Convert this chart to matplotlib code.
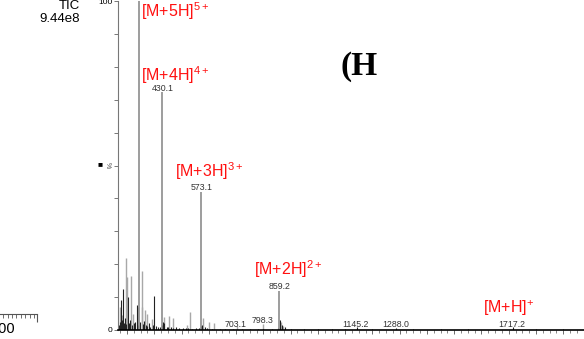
import matplotlib.pyplot as plt
import matplotlib.ticker as mticker

plt.rcParams['font.family'] = ['Liberation Sans', 'DejaVu Sans']
plt.rcParams['mathtext.default'] = 'regular'

# main charge-state peaks (m/z, relative %)
main_mz = [344.2, 430.1, 573.1, 859.2]
main_int = [100, 72.3, 42.0, 12.0]

# smaller grey peaks in the low m/z region
grey_mz = [274.3, 283.0, 295.2, 301.1, 314.7, 320.9, 339.0, 353.9, 356.1, 364.9,
           374.4, 390.6, 436.8, 454.0, 467.6, 518.9, 531.0, 580.0, 600.7, 619.0,
           703.1, 798.3, 866.0, 872.0]
grey_int = [7.0, 4.5, 22.0, 16.0, 16.4, 5.0, 7.0, 18.0, 7.0, 6.0,
            5.0, 3.3, 4.0, 4.3, 3.6, 1.5, 5.5, 3.7, 2.5, 2.0,
            1.2, 1.8, 2.4, 1.2]

# dark baseline / noise peaks
dark_mz = [272, 276, 278, 281, 285, 289, 293, 298, 304, 308, 312, 318, 324, 330,
           335.6, 342, 349, 358, 362, 368, 372, 380, 386, 395, 400.1, 408, 415,
           422, 428, 433, 437, 445, 452, 460, 470, 480, 492, 505, 515, 525, 540,
           552, 565, 571, 576, 585, 592, 610, 640, 660, 690, 720, 750, 780, 800,
           830, 855, 862, 868, 880, 900, 950, 1000, 1050, 1100, 1145.2, 1200,
           1288.0, 1350, 1450, 1550, 1717.2, 1800, 1900]
dark_int = [1.5, 2.5, 9.0, 3.0, 12.5, 2.0, 3.5, 1.8, 10.0, 2.2, 3.0, 1.5, 2.0, 2.5,
            7.5, 1.6, 2.4, 1.8, 2.8, 1.5, 1.2, 2.0, 1.0, 1.6, 10.3, 1.2, 1.0,
            0.9, 1.4, 2.5, 2.0, 1.0, 0.8, 0.9, 0.7, 0.8, 0.6, 0.5, 0.6, 0.5, 0.4,
            0.5, 0.6, 1.2, 1.5, 0.8, 0.5, 0.4, 0.3, 0.3, 0.3, 0.3, 0.3, 0.3, 0.4,
            0.3, 0.6, 3.0, 1.5, 0.8, 0.4, 0.3, 0.3, 0.3, 0.3, 0.8, 0.3,
            0.6, 0.2, 0.2, 0.2, 0.8, 0.2, 0.2]

# numeric peak labels: (text, x m/z, y %)
num_labels = [('430.1', 430.1, 73.4), ('573.1', 573.1, 43.3), ('859.2', 859.2, 13.3),
              ('703.1', 700.0, 1.6), ('798.3', 798.3, 3.0), ('1145.2', 1138.0, 1.6),
              ('1288.0', 1285.0, 1.6), ('1717.2', 1712.0, 1.6)]

# charge state annotations: (text, x m/z, y %)
ion_labels = [('[M+5H]$^{5+}$', 351.3, 96.8), ('[M+4H]$^{4+}$', 351.3, 77.6),
              ('[M+3H]$^{3+}$', 476.0, 48.3), ('[M+2H]$^{2+}$', 765.7, 18.4),
              ('[M+H]$^{+}$', 1605.4, 6.6)]

fig = plt.figure(figsize=(5.84, 3.39), dpi=100)
ax = fig.add_axes([118 / 584, 9 / 339, 1 - 118 / 584, 329 / 339])

ax.vlines(grey_mz, 0, grey_int, colors='#a8a8a8', lw=1.0)
ax.vlines(dark_mz, 0, dark_int, colors='#222222', lw=0.8)
ax.vlines(main_mz, 0, main_int, colors='#8c8c8c', lw=1.2)

ax.set_xlim(267, 1976)
ax.set_ylim(0, 100)

for s in ['top', 'right']:
    ax.spines[s].set_visible(False)
ax.spines['left'].set_color('#777777')
ax.spines['left'].set_linewidth(0.8)
ax.spines['bottom'].set_color('black')
ax.spines['bottom'].set_linewidth(1.2)

ax.yaxis.set_major_locator(mticker.FixedLocator([0, 100]))
ax.yaxis.set_minor_locator(mticker.MultipleLocator(10))
ax.tick_params(axis='y', which='both', length=3, width=0.7, color='#777777',
               labelsize=6, pad=1)
ax.xaxis.set_major_locator(mticker.MultipleLocator(100))
ax.xaxis.set_minor_locator(mticker.MultipleLocator(25))
ax.tick_params(axis='x', which='major', length=3, width=0.6, color='#555555',
               labelbottom=False)
ax.tick_params(axis='x', which='minor', length=2, width=0.5, color='#555555')

for txt, x, y in num_labels:
    ax.text(x, y, txt, ha='center', va='center', fontsize=6.3, color='#333333')

for txt, x, y in ion_labels:
    ax.text(x, y, txt, ha='left', va='center', fontsize=11.5, color='#ff1010')

# y-axis '%' marker
fig.text(97 / 584, 1 - 165 / 339, '\u25a0', fontsize=6, ha='left', va='center')
fig.text(104 / 584, 1 - 165 / 339, '%', fontsize=5, rotation=-90,
         ha='left', va='center', color='#444444')

# TIC info from neighbouring panel
fig.text(80 / 584, 1 - 6 / 339, 'TIC', fontsize=9.5, ha='right', va='center')
fig.text(80 / 584, 1 - 19 / 339, '9.44e8', fontsize=9.5, ha='right', va='center')

# panel letter (cropped)
fig.text(340 / 584, 1 - 66 / 339, '(H', fontsize=24, fontweight='bold',
         family='Liberation Serif', ha='left', va='center')

# edge of neighbouring panel's x axis
ax0 = fig.add_axes([-0.3, 1 - 314 / 339, 0.3 + 37 / 584, 0.001])
ax0.set_xlim(0, 100)
for s in ['left', 'right', 'bottom']:
    ax0.spines[s].set_visible(False)
ax0.spines['top'].set_color('#555555')
ax0.set_yticks([])
ax0.xaxis.set_minor_locator(mticker.MultipleLocator(2.1))
ax0.xaxis.set_major_locator(mticker.FixedLocator([100]))
ax0.xaxis.tick_top()
ax0.tick_params(axis='x', which='both', direction='in', color='#555555',
                labeltop=False)
ax0.tick_params(axis='x', which='major', length=6)
ax0.tick_params(axis='x', which='minor', length=3)
fig.text(-9 / 584, 1 - 329 / 339, '100', fontsize=10.5, ha='left', va='center')

fig.savefig('out.png', dpi=100)
